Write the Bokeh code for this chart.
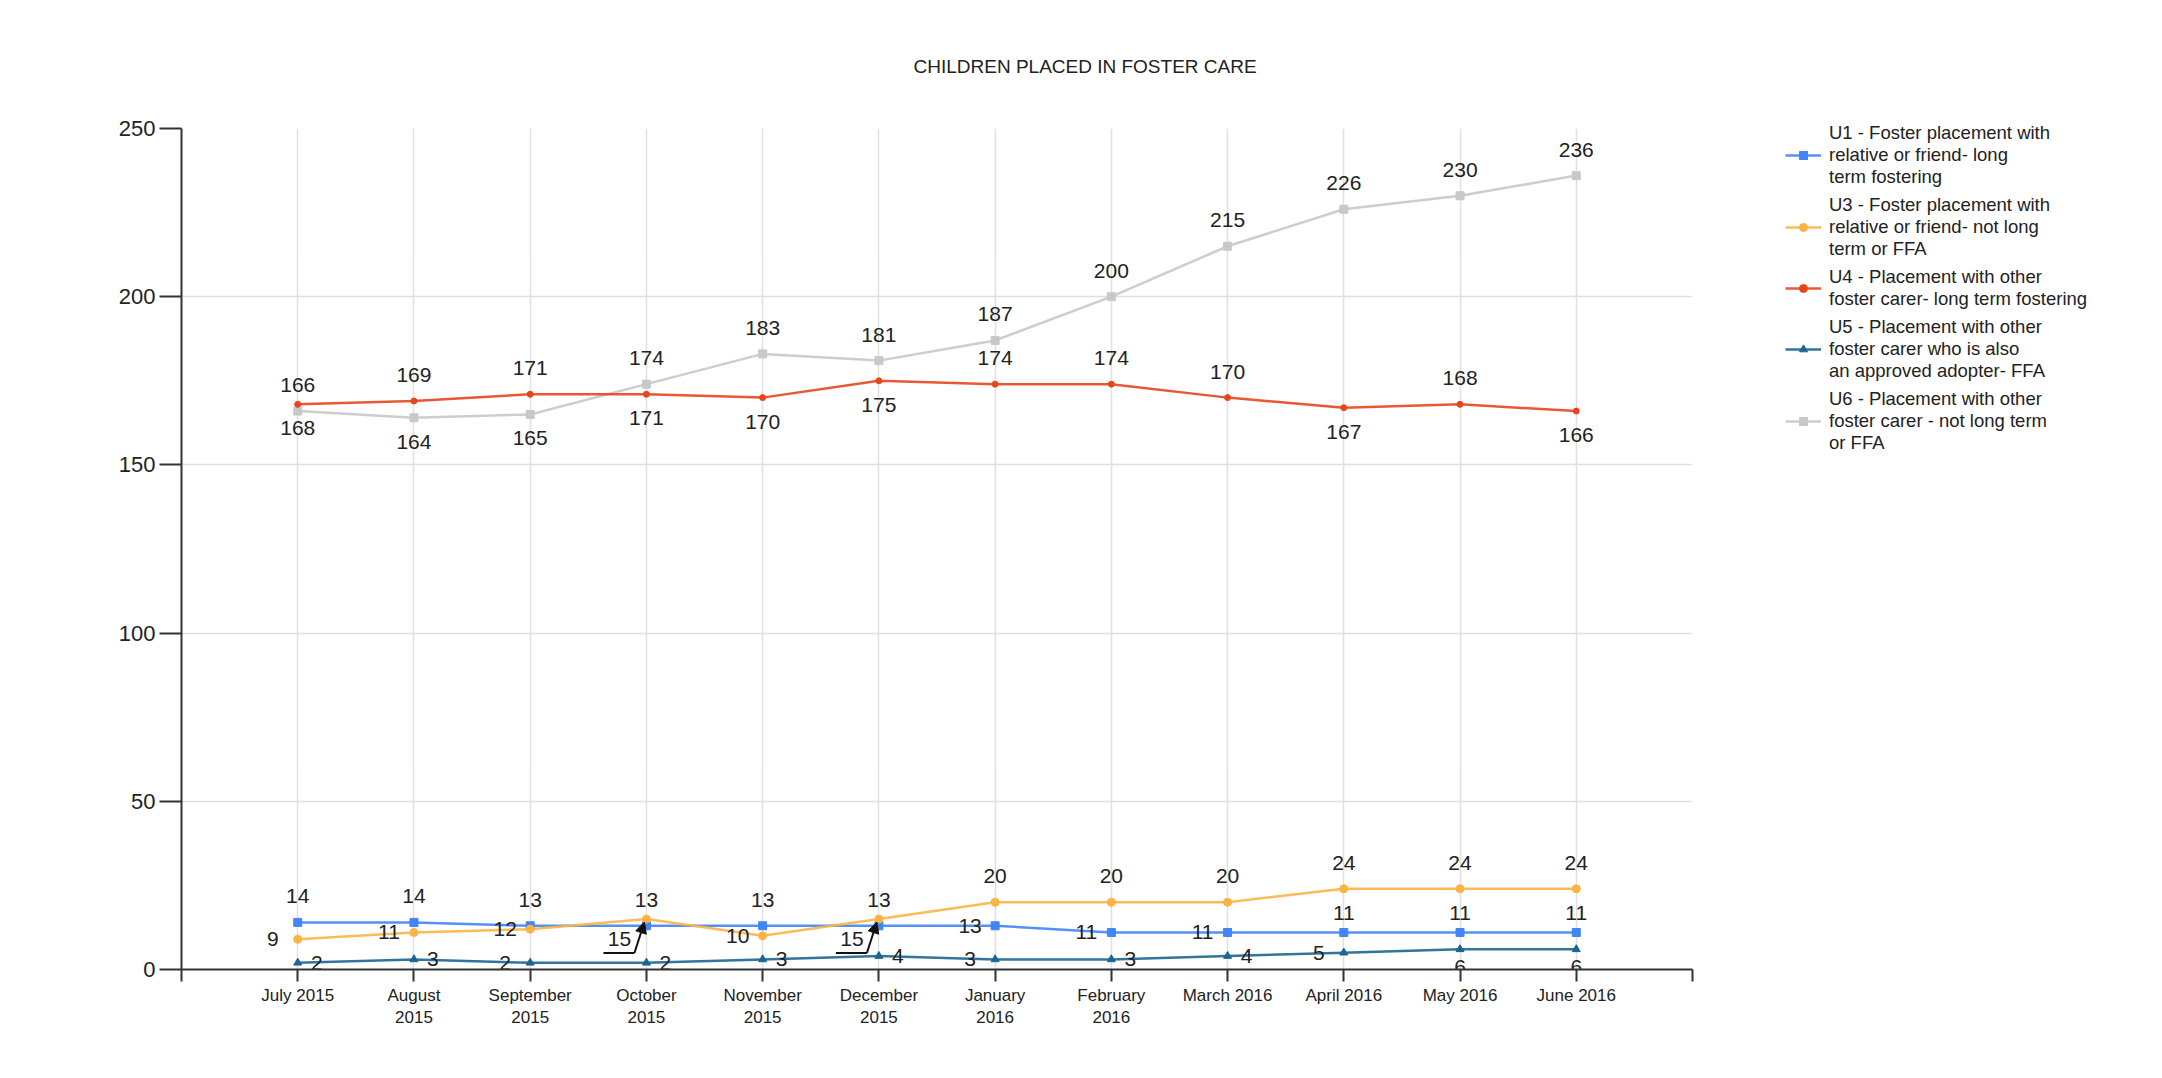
from bokeh.plotting import figure
from bokeh.models import (Range1d, FixedTicker, Legend, LegendItem, Arrow,
                          NormalHead, ColumnDataSource)
from bokeh.embed import file_html
from bokeh.resources import INLINE
from bokeh.core.properties import value

# ---------------- data ----------------
months = ["July 2015", "August\n2015", "September\n2015", "October\n2015",
          "November\n2015", "December\n2015", "January\n2016", "February\n2016",
          "March 2016", "April 2016", "May 2016", "June 2016"]

u1 = [14, 14, 13, 13, 13, 13, 13, 11, 11, 11, 11, 11]
u3 = [9, 11, 12, 15, 10, 15, 20, 20, 20, 24, 24, 24]
u4 = [168, 169, 171, 171, 170, 175, 174, 174, 170, 167, 168, 166]
u5 = [2, 3, 2, 2, 3, 4, 3, 3, 4, 5, 6, 6]
u6 = [166, 164, 165, 174, 183, 181, 187, 200, 215, 226, 230, 236]

names = [
    "U1 - Foster placement with\nrelative or friend- long\nterm fostering",
    "U3 - Foster placement with\nrelative or friend- not long\nterm or FFA",
    "U4 - Placement with other\nfoster carer- long term fostering",
    "U5 - Placement with other\nfoster carer who is also\nan approved adopter- FFA",
    "U6 - Placement with other\nfoster carer - not long term\nor FFA",
]
y_ticks = [0, 50, 100, 150, 200, 250]
title_text = "CHILDREN PLACED IN FOSTER CARE"

# label placement per point (a=above, b=below, l=left, r=right, x=arrow callout)
pos_u1 = ["a", "a", "a", "a", "a", "a", "l", "l", "l", "A", "A", "A"]
pos_u3 = ["l", "l", "l", "x", "l", "x", "a", "a", "a", "a", "a", "a"]
pos_u4 = ["b", "a", "a", "b", "b", "b", "a", "a", "a", "b", "a", "b"]
pos_u5 = ["r", "r", "l", "r", "r", "r", "l", "r", "r", "l", "B", "B"]
pos_u6 = ["a", "b", "b", "a", "a", "a", "a", "a", "a", "a", "a", "a"]

# ---------------- styles ----------------
FONT = "Liberation Sans"
TXT = "#222222"
colors = ["#4285f4", "#fbb444", "#e5461c", "#1b6594", "#c8c8c8"]
markers = ["square", "circle", "circle", "triangle", "square"]
msizes = [8, 8, 6, 8, 8]

FL, FT, FR, FB = 181, 128, 1692, 969
H = 1060
XMIN, XMAX, YMIN, YMAX = -1, 12, 0, 250
xs = (FR - FL) / (XMAX - XMIN)
ys = (FB - FT) / (YMAX - YMIN)

offs = {"a": (0, -26), "A": (0, -19), "b": (0, 24), "B": (0, 18),
        "l": (-25, 0), "r": (19, 0)}

p = figure(frame_width=FR - FL, frame_height=FB - FT,
           output_backend="svg", toolbar_location=None,
           x_range=Range1d(XMIN, XMAX), y_range=Range1d(YMIN, YMAX),
           min_border_left=FL, min_border_right=0,
           min_border_top=FT, min_border_bottom=H - FB)
p.outline_line_color = None
p.background_fill_color = "white"
p.border_fill_color = "white"

# title
p.title.text = title_text
p.title.align = "left"
p.title.offset = 732
p.title.text_font = FONT
p.title.text_font_size = "19px"
p.title.text_font_style = "normal"
p.title.text_color = TXT
p.title.standoff = 104

# grid
p.xgrid.ticker = FixedTicker(ticks=list(range(XMIN, XMAX + 1)))
p.ygrid.ticker = FixedTicker(ticks=y_ticks)
for g in (p.xgrid, p.ygrid):
    g.grid_line_color = "#e0e0e0"
    g.grid_line_width = 1.5

# axes
xa = p.xaxis[0]
xa.ticker = FixedTicker(ticks=list(range(XMIN, XMAX + 1)))
ov = {XMIN: "", XMAX: ""}
for i, m in enumerate(months):
    ov[i] = m
xa.major_label_overrides = ov
xa.major_tick_in = 0
xa.major_tick_out = 12
xa.minor_tick_line_color = None
xa.major_label_standoff = 4
xa.major_label_text_font = FONT
xa.major_label_text_font_size = "17px"
xa.major_label_text_color = TXT
xa.major_label_text_line_height = 1.2

ya = p.yaxis[0]
ya.ticker = FixedTicker(ticks=y_ticks)
ya.major_tick_in = 0
ya.major_tick_out = 22
ya.minor_tick_line_color = None
ya.major_label_standoff = 4
ya.major_label_text_font = FONT
ya.major_label_text_font_size = "22px"
ya.major_label_text_color = TXT

for ax in (xa, ya):
    ax.axis_line_color = "#333333"
    ax.axis_line_width = 2
    ax.major_tick_line_color = "#333333"
    ax.major_tick_line_width = 2

# series
x = list(range(len(months)))
series = [u1, u3, u4, u5, u6]
positions = [pos_u1, pos_u3, pos_u4, pos_u5, pos_u6]
order = [4, 2, 0, 1, 3]
rend = {}
for k in order:
    vals = series[k]
    lr = p.line(x, vals, line_color=colors[k], line_width=2.5, line_alpha=0.9)
    sr = p.scatter(x, vals, marker=markers[k], size=msizes[k],
                   fill_color=colors[k], line_color=colors[k])
    rend[k] = (lr, sr)

items = [LegendItem(label=names[k], renderers=list(rend[k])) for k in range(5)]

# data labels
callouts = []
for k in range(5):
    vals = series[k]
    lx, ly, lt, dx, dy = [], [], [], [], []
    for i, v in enumerate(vals):
        code = positions[k][i]
        if code == "x":
            callouts.append((i, v))
            continue
        ox, oy = offs[code]
        lx.append(i); ly.append(v); lt.append(str(v)); dx.append(ox); dy.append(oy)
    src = ColumnDataSource(dict(x=lx, y=ly, t=lt, dx=dx, dy=dy))
    p.text(x="x", y="y", text="t", x_offset="dx", y_offset="dy", source=src,
           text_align="center", text_baseline="middle",
           text_font=value(FONT), text_font_size="21px", text_color=TXT)

# arrow callouts (U3 October / December)
for (i, v) in callouts:
    def dxd(px, i=i):
        return i + px / xs
    def dyd(py, v=v):
        return v - py / ys
    p.segment(x0=[dxd(-43)], y0=[dyd(34)], x1=[dxd(-12)], y1=[dyd(34)],
              line_color="#111111", line_width=2)
    p.add_layout(Arrow(end=NormalHead(size=11, fill_color="#111111", line_color="#111111"),
                       x_start=dxd(-12), y_start=dyd(34), x_end=dxd(-2), y_end=dyd(3),
                       line_color="#111111", line_width=2))
    p.text(x=[i], y=[v], text=[str(v)], x_offset=-27, y_offset=20,
           text_align="center", text_baseline="middle",
           text_font=value(FONT), text_font_size="21px", text_color=TXT)

legend = Legend(items=items, location=(93, 515), orientation="vertical",
                glyph_width=36, glyph_height=20, label_standoff=8, spacing=6,
                padding=0, margin=50, border_line_color=None, background_fill_alpha=0,
                label_text_font=FONT, label_text_font_size="18.5px",
                label_text_color=TXT, label_text_line_height=1.72)
p.add_layout(legend, "right")

open("out.html", "w").write(file_html(p, INLINE))
